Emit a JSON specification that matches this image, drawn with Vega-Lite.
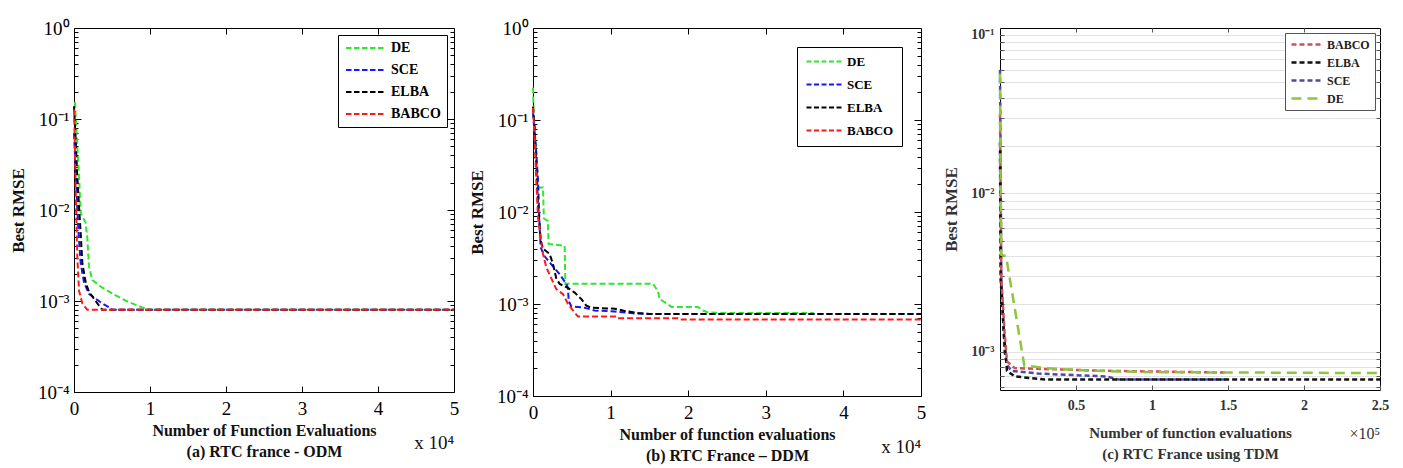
{
  "$schema": "https://vega.github.io/schema/vega-lite/v6.json",
  "background": "white",
  "padding": {"left": 8, "top": 18, "right": 5, "bottom": 5},
  "bounds": "flush",
  "spacing": 79,
  "datasets": {
    "odm": [
      {"series": "DE", "nfe": 0, "rmse": 0.152},
      {"series": "DE", "nfe": 130, "rmse": 0.15},
      {"series": "DE", "nfe": 440, "rmse": 0.05},
      {"series": "DE", "nfe": 700, "rmse": 0.02},
      {"series": "DE", "nfe": 880, "rmse": 0.0095},
      {"series": "DE", "nfe": 1100, "rmse": 0.0084},
      {"series": "DE", "nfe": 1500, "rmse": 0.0074},
      {"series": "DE", "nfe": 1750, "rmse": 0.005},
      {"series": "DE", "nfe": 1970, "rmse": 0.0024},
      {"series": "DE", "nfe": 2400, "rmse": 0.0017},
      {"series": "DE", "nfe": 3730, "rmse": 0.0014},
      {"series": "DE", "nfe": 5480, "rmse": 0.00115},
      {"series": "DE", "nfe": 7230, "rmse": 0.00097},
      {"series": "DE", "nfe": 8990, "rmse": 0.00085},
      {"series": "DE", "nfe": 9900, "rmse": 0.0008},
      {"series": "DE", "nfe": 50000, "rmse": 0.0008},
      {"series": "SCE", "nfe": 0, "rmse": 0.07},
      {"series": "SCE", "nfe": 200, "rmse": 0.03},
      {"series": "SCE", "nfe": 440, "rmse": 0.01},
      {"series": "SCE", "nfe": 660, "rmse": 0.0047},
      {"series": "SCE", "nfe": 880, "rmse": 0.0026},
      {"series": "SCE", "nfe": 1320, "rmse": 0.0016},
      {"series": "SCE", "nfe": 1970, "rmse": 0.0012},
      {"series": "SCE", "nfe": 2850, "rmse": 0.00106},
      {"series": "SCE", "nfe": 3730, "rmse": 0.00094},
      {"series": "SCE", "nfe": 4820, "rmse": 0.00083},
      {"series": "SCE", "nfe": 5040, "rmse": 0.0008},
      {"series": "SCE", "nfe": 50000, "rmse": 0.0008},
      {"series": "ELBA", "nfe": 0, "rmse": 0.138},
      {"series": "ELBA", "nfe": 220, "rmse": 0.06},
      {"series": "ELBA", "nfe": 400, "rmse": 0.026},
      {"series": "ELBA", "nfe": 660, "rmse": 0.011},
      {"series": "ELBA", "nfe": 880, "rmse": 0.0055},
      {"series": "ELBA", "nfe": 1100, "rmse": 0.0026},
      {"series": "ELBA", "nfe": 1540, "rmse": 0.0016},
      {"series": "ELBA", "nfe": 1970, "rmse": 0.00126},
      {"series": "ELBA", "nfe": 2630, "rmse": 0.00106},
      {"series": "ELBA", "nfe": 3290, "rmse": 0.00089},
      {"series": "ELBA", "nfe": 3730, "rmse": 0.0008},
      {"series": "ELBA", "nfe": 50000, "rmse": 0.0008},
      {"series": "BABCO", "nfe": 0, "rmse": 0.127},
      {"series": "BABCO", "nfe": 100, "rmse": 0.06},
      {"series": "BABCO", "nfe": 220, "rmse": 0.0166},
      {"series": "BABCO", "nfe": 440, "rmse": 0.003},
      {"series": "BABCO", "nfe": 660, "rmse": 0.0013},
      {"series": "BABCO", "nfe": 1100, "rmse": 0.00094},
      {"series": "BABCO", "nfe": 1750, "rmse": 0.0008},
      {"series": "BABCO", "nfe": 50000, "rmse": 0.0008}
    ],
    "ddm": [
      {"series": "DE", "nfe": 0, "rmse": 0.225},
      {"series": "DE", "nfe": 100, "rmse": 0.106},
      {"series": "DE", "nfe": 450, "rmse": 0.04},
      {"series": "DE", "nfe": 644, "rmse": 0.0185},
      {"series": "DE", "nfe": 1290, "rmse": 0.0185},
      {"series": "DE", "nfe": 1400, "rmse": 0.0085},
      {"series": "DE", "nfe": 1900, "rmse": 0.008},
      {"series": "DE", "nfe": 2020, "rmse": 0.0045},
      {"series": "DE", "nfe": 4080, "rmse": 0.0043},
      {"series": "DE", "nfe": 4170, "rmse": 0.00166},
      {"series": "DE", "nfe": 15460, "rmse": 0.00166},
      {"series": "DE", "nfe": 16100, "rmse": 0.00138},
      {"series": "DE", "nfe": 16320, "rmse": 0.00113},
      {"series": "DE", "nfe": 17400, "rmse": 0.00099},
      {"series": "DE", "nfe": 17830, "rmse": 0.00093},
      {"series": "DE", "nfe": 21260, "rmse": 0.00093},
      {"series": "DE", "nfe": 21900, "rmse": 0.00085},
      {"series": "DE", "nfe": 22550, "rmse": 0.00081},
      {"series": "DE", "nfe": 24000, "rmse": 0.0008},
      {"series": "DE", "nfe": 36200, "rmse": 0.0008},
      {"series": "SCE", "nfe": 0, "rmse": 0.12},
      {"series": "SCE", "nfe": 430, "rmse": 0.043},
      {"series": "SCE", "nfe": 644, "rmse": 0.022},
      {"series": "SCE", "nfe": 860, "rmse": 0.0068},
      {"series": "SCE", "nfe": 990, "rmse": 0.0041},
      {"series": "SCE", "nfe": 1500, "rmse": 0.0033},
      {"series": "SCE", "nfe": 2360, "rmse": 0.0027},
      {"series": "SCE", "nfe": 3440, "rmse": 0.0021},
      {"series": "SCE", "nfe": 4300, "rmse": 0.00165},
      {"series": "SCE", "nfe": 4500, "rmse": 0.0015},
      {"series": "SCE", "nfe": 4600, "rmse": 0.00108},
      {"series": "SCE", "nfe": 4940, "rmse": 0.00094},
      {"series": "SCE", "nfe": 6440, "rmse": 0.00092},
      {"series": "SCE", "nfe": 7950, "rmse": 0.00085},
      {"series": "SCE", "nfe": 10520, "rmse": 0.00083},
      {"series": "SCE", "nfe": 13100, "rmse": 0.00079},
      {"series": "SCE", "nfe": 15000, "rmse": 0.00078},
      {"series": "SCE", "nfe": 50000, "rmse": 0.00078},
      {"series": "ELBA", "nfe": 0, "rmse": 0.14},
      {"series": "ELBA", "nfe": 215, "rmse": 0.083},
      {"series": "ELBA", "nfe": 430, "rmse": 0.028},
      {"series": "ELBA", "nfe": 644, "rmse": 0.0123},
      {"series": "ELBA", "nfe": 990, "rmse": 0.0049},
      {"series": "ELBA", "nfe": 1290, "rmse": 0.004},
      {"series": "ELBA", "nfe": 2150, "rmse": 0.0035},
      {"series": "ELBA", "nfe": 2580, "rmse": 0.0027},
      {"series": "ELBA", "nfe": 3000, "rmse": 0.0019},
      {"series": "ELBA", "nfe": 3440, "rmse": 0.00165},
      {"series": "ELBA", "nfe": 4510, "rmse": 0.0015},
      {"series": "ELBA", "nfe": 5370, "rmse": 0.00133},
      {"series": "ELBA", "nfe": 6230, "rmse": 0.00113},
      {"series": "ELBA", "nfe": 6870, "rmse": 0.00096},
      {"series": "ELBA", "nfe": 7520, "rmse": 0.00091},
      {"series": "ELBA", "nfe": 10520, "rmse": 0.00089},
      {"series": "ELBA", "nfe": 11810, "rmse": 0.00084},
      {"series": "ELBA", "nfe": 13530, "rmse": 0.0008},
      {"series": "ELBA", "nfe": 15000, "rmse": 0.00078},
      {"series": "ELBA", "nfe": 50000, "rmse": 0.00078},
      {"series": "BABCO", "nfe": 0, "rmse": 0.136},
      {"series": "BABCO", "nfe": 215, "rmse": 0.064},
      {"series": "BABCO", "nfe": 430, "rmse": 0.022},
      {"series": "BABCO", "nfe": 644, "rmse": 0.0087},
      {"series": "BABCO", "nfe": 990, "rmse": 0.0053},
      {"series": "BABCO", "nfe": 1290, "rmse": 0.0035},
      {"series": "BABCO", "nfe": 1720, "rmse": 0.0025},
      {"series": "BABCO", "nfe": 2360, "rmse": 0.0019},
      {"series": "BABCO", "nfe": 3000, "rmse": 0.00145},
      {"series": "BABCO", "nfe": 3870, "rmse": 0.00128},
      {"series": "BABCO", "nfe": 4510, "rmse": 0.001},
      {"series": "BABCO", "nfe": 5150, "rmse": 0.00085},
      {"series": "BABCO", "nfe": 5800, "rmse": 0.00073},
      {"series": "BABCO", "nfe": 10740, "rmse": 0.00073},
      {"series": "BABCO", "nfe": 10870, "rmse": 0.0007},
      {"series": "BABCO", "nfe": 18690, "rmse": 0.0007},
      {"series": "BABCO", "nfe": 18900, "rmse": 0.00068},
      {"series": "BABCO", "nfe": 50000, "rmse": 0.00068}
    ],
    "tdm": [
      {"series": "SCE", "nfe": 0, "rmse": 0.06},
      {"series": "SCE", "nfe": 880, "rmse": 0.0029},
      {"series": "SCE", "nfe": 3000, "rmse": 0.001},
      {"series": "SCE", "nfe": 4600, "rmse": 0.00083},
      {"series": "SCE", "nfe": 7500, "rmse": 0.00076},
      {"series": "SCE", "nfe": 25000, "rmse": 0.00073},
      {"series": "SCE", "nfe": 70000, "rmse": 0.0007},
      {"series": "SCE", "nfe": 78000, "rmse": 0.00067},
      {"series": "SCE", "nfe": 150000, "rmse": 0.00067},
      {"series": "ELBA", "nfe": 0, "rmse": 0.021},
      {"series": "ELBA", "nfe": 400, "rmse": 0.0029},
      {"series": "ELBA", "nfe": 2600, "rmse": 0.0013},
      {"series": "ELBA", "nfe": 4600, "rmse": 0.00076},
      {"series": "ELBA", "nfe": 9700, "rmse": 0.0007},
      {"series": "ELBA", "nfe": 29500, "rmse": 0.00067},
      {"series": "ELBA", "nfe": 250000, "rmse": 0.00067},
      {"series": "BABCO", "nfe": 0, "rmse": 0.032},
      {"series": "BABCO", "nfe": 880, "rmse": 0.0029},
      {"series": "BABCO", "nfe": 3080, "rmse": 0.0013},
      {"series": "BABCO", "nfe": 4600, "rmse": 0.00087},
      {"series": "BABCO", "nfe": 9700, "rmse": 0.00079},
      {"series": "BABCO", "nfe": 69000, "rmse": 0.00076},
      {"series": "BABCO", "nfe": 150000, "rmse": 0.00074},
      {"series": "DE", "nfe": 0, "rmse": 0.057},
      {"series": "DE", "nfe": 700, "rmse": 0.0041},
      {"series": "DE", "nfe": 4000, "rmse": 0.004},
      {"series": "DE", "nfe": 16000, "rmse": 0.00082},
      {"series": "DE", "nfe": 30000, "rmse": 0.00079},
      {"series": "DE", "nfe": 60000, "rmse": 0.00076},
      {"series": "DE", "nfe": 100000, "rmse": 0.000745},
      {"series": "DE", "nfe": 250000, "rmse": 0.000735}
    ]
  },
  "hconcat": [
    {
      "width": 380,
      "height": 364,
      "data": {"name": "odm"},
      "title": {"text": "x 10⁴", "orient": "bottom", "anchor": "end", "frame": "group", "offset": -25, "fontSize": 19, "fontWeight": "normal", "font": "Liberation Serif", "color": "#111"},
      "layer": [
        {
          "mark": {"type": "line", "strokeDash": [6, 3], "strokeWidth": 2},
          "encoding": {
            "x": {"field": "nfe", "type": "quantitative", "scale": {"domain": [0, 50000], "nice": false, "zero": false},
              "axis": {"orient": "bottom", "values": [0, 10000, 20000, 30000, 40000, 50000], "labelExpr": "'' + datum.value/10000", "labelFontSize": 19, "labelPadding": 7, "ticks": true, "tickSize": 6, "offset": -6,
                "title": ["Number of Function Evaluations", "(a) RTC france - ODM"], "titleFontSize": 16, "titleFontWeight": "bold", "titleLineHeight": 21, "titlePadding": 4}},
            "y": {"field": "rmse", "type": "quantitative", "scale": {"type": "log", "domain": [0.0001, 1], "nice": false},
              "axis": {"orient": "left", "values": [0.0001, 0.001, 0.01, 0.1, 1],
                "labelExpr": "'10' + replace(replace(replace(replace(replace(replace('' + round(log(datum.value)/LN10), '-', '⁻'), '0', '⁰'), '1', '¹'), '2', '²'), '3', '³'), '4', '⁴')",
                "labelFontSize": 19, "labelPadding": 5, "ticks": true, "tickSize": 7, "offset": -7,
                "title": "Best RMSE", "titleFontSize": 17, "titleFontWeight": "bold", "titlePadding": 10}},
            "color": {"field": "series", "type": "nominal", "scale": {"domain": ["DE", "SCE", "ELBA", "BABCO"], "range": ["#2ee82e", "#1414ff", "#000000", "#ff1a1a"]},
              "legend": {"orient": "top-right", "offset": 7, "title": null, "labelFontSize": 14, "labelFontWeight": "bold", "symbolType": "M-1,0H7", "symbolSize": 100, "symbolDash": [5.5, 2.5], "symbolStrokeWidth": 2, "labelOffset": 33, "rowPadding": 8, "padding": 6, "zindex": 2}}
          }
        },
        {
          "mark": {"type": "point", "opacity": 0},
          "encoding": {
            "x": {"field": "nfe", "type": "quantitative", "scale": {"domain": [0, 50000], "nice": false, "zero": false},
              "axis": {"orient": "top", "labels": false, "title": null, "values": [10000, 20000, 30000, 40000], "ticks": true, "tickSize": 6, "offset": -6}},
            "y": {"field": "rmse", "type": "quantitative", "scale": {"type": "log", "domain": [0.0001, 1], "nice": false},
              "axis": {"orient": "right", "labels": false, "title": null, "values": [0.001, 0.01, 0.1], "ticks": true, "tickSize": 7, "offset": -7}}
          }
        },
        {
          "mark": {"type": "point", "opacity": 0},
          "encoding": {
            "x": {"field": "nfe", "type": "quantitative", "scale": {"domain": [0, 50000], "nice": false, "zero": false}, "axis": null},
            "y": {"field": "rmse", "type": "quantitative", "scale": {"type": "log", "domain": [0.0001, 1], "nice": false},
              "axis": {"orient": "left", "labels": false, "title": null, "values": [0.0002,0.0003,0.0004,0.0005,0.0006,0.0007,0.0008,0.0009,0.002,0.003,0.004,0.005,0.006,0.007,0.008,0.009,0.02,0.03,0.04,0.05,0.06,0.07,0.08,0.09,0.2,0.3,0.4,0.5,0.6,0.7,0.8,0.9], "ticks": true, "tickSize": 4, "offset": -4}}
          }
        },
        {
          "mark": {"type": "point", "opacity": 0},
          "encoding": {
            "x": {"field": "nfe", "type": "quantitative", "scale": {"domain": [0, 50000], "nice": false, "zero": false}, "axis": null},
            "y": {"field": "rmse", "type": "quantitative", "scale": {"type": "log", "domain": [0.0001, 1], "nice": false},
              "axis": {"orient": "right", "labels": false, "title": null, "values": [0.0002,0.0003,0.0004,0.0005,0.0006,0.0007,0.0008,0.0009,0.002,0.003,0.004,0.005,0.006,0.007,0.008,0.009,0.02,0.03,0.04,0.05,0.06,0.07,0.08,0.09,0.2,0.3,0.4,0.5,0.6,0.7,0.8,0.9], "ticks": true, "tickSize": 4, "offset": -4}}
          }
        }
      ],
      "resolve": {"axis": {"x": "independent", "y": "independent"}}
    },
    {
      "width": 388,
      "height": 368,
      "data": {"name": "ddm"},
      "title": {"text": "x 10⁴", "orient": "bottom", "anchor": "end", "frame": "group", "offset": -25, "fontSize": 19, "fontWeight": "normal", "font": "Liberation Serif", "color": "#111"},
      "layer": [
        {
          "mark": {"type": "line", "strokeDash": [6, 3], "strokeWidth": 2},
          "encoding": {
            "x": {"field": "nfe", "type": "quantitative", "scale": {"domain": [0, 50000], "nice": false, "zero": false},
              "axis": {"orient": "bottom", "values": [0, 10000, 20000, 30000, 40000, 50000], "labelExpr": "'' + datum.value/10000", "labelFontSize": 19, "labelPadding": 7, "ticks": true, "tickSize": 6, "offset": -6,
                "title": ["Number of function evaluations", "(b) RTC France – DDM"], "titleFontSize": 16, "titleFontWeight": "bold", "titleLineHeight": 21, "titlePadding": 4}},
            "y": {"field": "rmse", "type": "quantitative", "scale": {"type": "log", "domain": [0.0001, 1], "nice": false},
              "axis": {"orient": "left", "values": [0.0001, 0.001, 0.01, 0.1, 1],
                "labelExpr": "'10' + replace(replace(replace(replace(replace(replace('' + round(log(datum.value)/LN10), '-', '⁻'), '0', '⁰'), '1', '¹'), '2', '²'), '3', '³'), '4', '⁴')",
                "labelFontSize": 19, "labelPadding": 5, "ticks": true, "tickSize": 7, "offset": -7,
                "title": "Best RMSE", "titleFontSize": 17, "titleFontWeight": "bold", "titlePadding": 10}},
            "color": {"field": "series", "type": "nominal", "scale": {"domain": ["DE", "SCE", "ELBA", "BABCO"], "range": ["#2ee82e", "#1414ff", "#000000", "#ff1a1a"]},
              "legend": {"orient": "top-right", "offset": 19, "title": null, "labelFontSize": 13, "labelFontWeight": "bold", "symbolType": "M-1,0H6", "symbolSize": 100, "symbolDash": [5, 2.5], "symbolStrokeWidth": 2, "labelOffset": 29, "rowPadding": 9, "padding": 8, "zindex": 2}}
          }
        },
        {
          "mark": {"type": "point", "opacity": 0},
          "encoding": {
            "x": {"field": "nfe", "type": "quantitative", "scale": {"domain": [0, 50000], "nice": false, "zero": false},
              "axis": {"orient": "top", "labels": false, "title": null, "values": [10000, 20000, 30000, 40000], "ticks": true, "tickSize": 6, "offset": -6}},
            "y": {"field": "rmse", "type": "quantitative", "scale": {"type": "log", "domain": [0.0001, 1], "nice": false},
              "axis": {"orient": "right", "labels": false, "title": null, "values": [0.001, 0.01, 0.1], "ticks": true, "tickSize": 7, "offset": -7}}
          }
        },
        {
          "mark": {"type": "point", "opacity": 0},
          "encoding": {
            "x": {"field": "nfe", "type": "quantitative", "scale": {"domain": [0, 50000], "nice": false, "zero": false}, "axis": null},
            "y": {"field": "rmse", "type": "quantitative", "scale": {"type": "log", "domain": [0.0001, 1], "nice": false},
              "axis": {"orient": "left", "labels": false, "title": null, "values": [0.0002,0.0003,0.0004,0.0005,0.0006,0.0007,0.0008,0.0009,0.002,0.003,0.004,0.005,0.006,0.007,0.008,0.009,0.02,0.03,0.04,0.05,0.06,0.07,0.08,0.09,0.2,0.3,0.4,0.5,0.6,0.7,0.8,0.9], "ticks": true, "tickSize": 4, "offset": -4}}
          }
        },
        {
          "mark": {"type": "point", "opacity": 0},
          "encoding": {
            "x": {"field": "nfe", "type": "quantitative", "scale": {"domain": [0, 50000], "nice": false, "zero": false}, "axis": null},
            "y": {"field": "rmse", "type": "quantitative", "scale": {"type": "log", "domain": [0.0001, 1], "nice": false},
              "axis": {"orient": "right", "labels": false, "title": null, "values": [0.0002,0.0003,0.0004,0.0005,0.0006,0.0007,0.0008,0.0009,0.002,0.003,0.004,0.005,0.006,0.007,0.008,0.009,0.02,0.03,0.04,0.05,0.06,0.07,0.08,0.09,0.2,0.3,0.4,0.5,0.6,0.7,0.8,0.9], "ticks": true, "tickSize": 4, "offset": -4}}
          }
        }
      ],
      "resolve": {"axis": {"x": "independent", "y": "independent"}}
    },
    {
      "width": 380,
      "height": 362,
      "data": {"name": "tdm"},
      "title": {"text": "×10⁵", "orient": "bottom", "anchor": "end", "frame": "group", "offset": -35, "fontSize": 16, "fontWeight": "normal", "font": "Liberation Serif", "color": "#333"},
      "layer": [
        {
          "mark": {"type": "point", "opacity": 0},
          "encoding": {
            "x": {"field": "nfe", "type": "quantitative", "scale": {"domain": [0, 250000], "nice": false, "zero": false}, "axis": null},
            "y": {"field": "rmse", "type": "quantitative", "scale": {"type": "log", "domain": [0.000575, 0.1102], "nice": false},
              "axis": {"orient": "left", "labels": false, "ticks": false, "title": null, "grid": true, "gridColor": "#e2e2e2", "gridWidth": 1, "zindex": 0,
                "values": [0.0006,0.0007,0.0008,0.0009,0.001,0.002,0.003,0.004,0.005,0.006,0.007,0.008,0.009,0.01,0.02,0.03,0.04,0.05,0.06,0.07,0.08,0.09,0.1]}}
          }
        },
        {
          "mark": {"type": "line", "strokeWidth": 2.5},
          "encoding": {
            "x": {"field": "nfe", "type": "quantitative", "scale": {"domain": [0, 250000], "nice": false, "zero": false},
              "axis": {"orient": "bottom", "values": [50000, 100000, 150000, 200000, 250000], "labelExpr": "'' + datum.value/100000", "labelFontSize": 14, "labelFontWeight": "bold", "labelPadding": 8, "ticks": true, "tickSize": 5, "offset": -5, "labelColor": "#333", "tickColor": "#555",
                "title": ["Number of function evaluations", "(c) RTC France using TDM"], "titleFontSize": 15, "titleFontWeight": "bold", "titleLineHeight": 21, "titlePadding": 13, "titleColor": "#333"}},
            "y": {"field": "rmse", "type": "quantitative", "scale": {"type": "log", "domain": [0.000575, 0.1102], "nice": false},
              "axis": {"orient": "left", "values": [0.0006,0.0007,0.0008,0.0009,0.001,0.002,0.003,0.004,0.005,0.006,0.007,0.008,0.009,0.01,0.02,0.03,0.04,0.05,0.06,0.07,0.08,0.09,0.1],
                "labelExpr": "abs(log(datum.value)/LN10 - round(log(datum.value)/LN10)) < 0.01 ? '10' + replace(replace(replace(replace(replace(replace('' + round(log(datum.value)/LN10), '-', '⁻'), '0', '⁰'), '1', '¹'), '2', '²'), '3', '³'), '4', '⁴') : ''",
                "labelFontSize": 14, "labelFontWeight": "bold", "labelPadding": 6, "labelColor": "#333",
                "ticks": true, "tickSize": 4, "offset": -4, "tickColor": "#555",
                "title": "Best RMSE", "titleFontSize": 17, "titleFontWeight": "bold", "titlePadding": 10, "titleColor": "#333"}},
            "color": {"field": "series", "type": "nominal", "scale": {"domain": ["BABCO", "ELBA", "SCE", "DE"], "range": ["#d45050", "#111111", "#4a4aa8", "#8cc63f"]},
              "legend": {"orient": "top-right", "offset": 5, "title": null, "labelFontSize": 12, "labelFontWeight": "bold", "symbolType": "M-1,0H5", "symbolSize": 100, "symbolStrokeWidth": 2.5, "labelOffset": 24, "rowPadding": 5, "padding": 5, "labelColor": "#222", "strokeColor": "#555", "zindex": 2}},
            "strokeDash": {"field": "series", "type": "nominal", "scale": {"domain": ["BABCO", "ELBA", "SCE", "DE"], "range": [[5, 3], [5, 3], [5, 3], [10, 6]]},
              "legend": {"orient": "top-right", "offset": 5, "title": null, "labelFontSize": 12, "labelFontWeight": "bold", "symbolType": "M-1,0H5", "symbolSize": 100, "symbolStrokeWidth": 2.5, "labelOffset": 24, "rowPadding": 5, "padding": 5, "labelColor": "#222", "strokeColor": "#555", "zindex": 2}}
          }
        },
        {
          "mark": {"type": "point", "opacity": 0},
          "encoding": {
            "x": {"field": "nfe", "type": "quantitative", "scale": {"domain": [0, 250000], "nice": false, "zero": false},
              "axis": {"orient": "top", "labels": false, "title": null, "values": [50000, 100000, 150000, 200000], "ticks": true, "tickSize": 4, "offset": -4, "tickColor": "#555"}},
            "y": {"field": "rmse", "type": "quantitative", "scale": {"type": "log", "domain": [0.000575, 0.1102], "nice": false},
              "axis": {"orient": "right", "labels": false, "title": null, "values": [0.0006,0.0007,0.0008,0.0009,0.001,0.002,0.003,0.004,0.005,0.006,0.007,0.008,0.009,0.01,0.02,0.03,0.04,0.05,0.06,0.07,0.08,0.09,0.1], "ticks": true, "tickSize": 4, "offset": -4, "tickColor": "#555"}}
          }
        }
      ],
      "resolve": {"axis": {"x": "independent", "y": "independent"}}
    }
  ],
  "resolve": {"scale": {"x": "independent", "y": "independent", "color": "independent", "strokeDash": "independent"}, "legend": {"color": "independent", "strokeDash": "independent"}},
  "config": {
    "font": "Liberation Serif",
    "view": {"stroke": "black", "strokeWidth": 1},
    "axis": {"labelFlush": false, "labelOverlap": false, "domain": false, "grid": false, "ticks": true, "zindex": 1, "labelColor": "black", "titleColor": "#111", "tickColor": "black", "tickWidth": 1, "tickOpacity": 1, "labelFont": "Liberation Serif", "titleFont": "Liberation Serif"},
    "legend": {"labelFont": "Liberation Serif", "labelColor": "black", "strokeColor": "black", "fillColor": "white", "labelLimit": 200}
  }
}
